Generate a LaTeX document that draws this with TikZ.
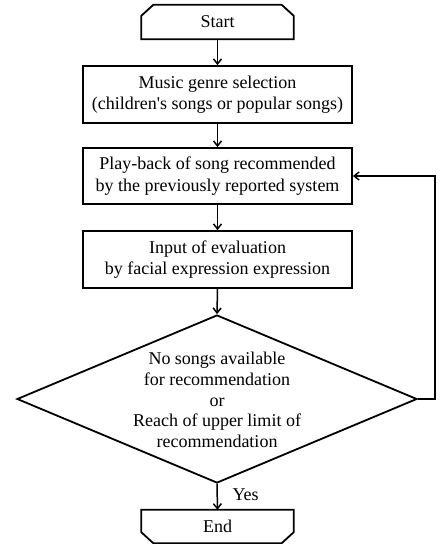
\documentclass[tikz,border=0pt]{standalone}
\usepackage{fontspec}
\setmainfont{Liberation Serif}
\usetikzlibrary{shapes.geometric,arrows.meta}
\begin{document}
\begin{tikzpicture}[x=1pt,y=-1pt,
  every node/.style={font=\fontsize{18}{21.5}\selectfont},
  procbox/.style={draw, rectangle, line width=1.8pt, minimum width=269pt, minimum height=57pt, align=center, inner sep=0pt},
  termbox/.style={rectangle, minimum width=152pt, minimum height=34pt, inner sep=0pt},
  outline/.style={line width=1.8pt, line join=miter},
  arr/.style={line width=1.5pt, -{Straight Barb[length=5pt,width=8pt]}}]
\useasboundingbox[fill=white] (0,0) rectangle (441,544);

% terminals
\node[termbox] (start) at (217.5,22) {Start};
\draw[outline] (start.south west) -- ([yshift=-11pt]start.north west) -- ([xshift=12pt]start.north west)
  -- ([xshift=-12pt]start.north east) -- ([yshift=-11pt]start.north east) -- (start.south east) -- cycle;

% process boxes
\node[procbox] (b1) at (217.5,94.5) {Music genre selection\\(children\textquotesingle s songs or popular songs)};
\node[procbox, minimum height=56pt] (b2) at (217.5,176) {Play-back of song recommended\\by the previously reported system};
\node[procbox] (b3) at (217.5,259.5) {Input of evaluation\\by facial expression expression};

% decision
\node[diamond, draw, line width=1.8pt, minimum width=400pt, minimum height=168pt, inner sep=0pt] (dec) at (217,399) {};
\node[align=center, font=\fontsize{18}{20.7}\selectfont] (dectext) at (217,400) {No songs available\\for recommendation\\or\\Reach of upper limit of\\recommendation};

% end terminal
\node[termbox, minimum height=33pt] (endn) at (217.5,526.5) {End};
\draw[outline] (endn.north west) -- ([yshift=11pt]endn.south west) -- ([xshift=12pt]endn.south west)
  -- ([xshift=-12pt]endn.south east) -- ([yshift=11pt]endn.south east) -- (endn.north east) -- cycle;

% connectors
\draw[arr] (start.south) -- (b1.north);
\draw[arr] (b1.south) -- (b2.north);
\draw[arr] (b2.south) -- (b3.north);
\draw[arr] (b3.south) -- (dec.north);
\draw[arr] (dec.south) -- (endn.north);
\node[anchor=west] (yes) at (229,495) {Yes};

\coordinate (loop) at (435,399);
\draw[arr] (dec.east) -- (loop) |- (b2.east);
\end{tikzpicture}
\end{document}
